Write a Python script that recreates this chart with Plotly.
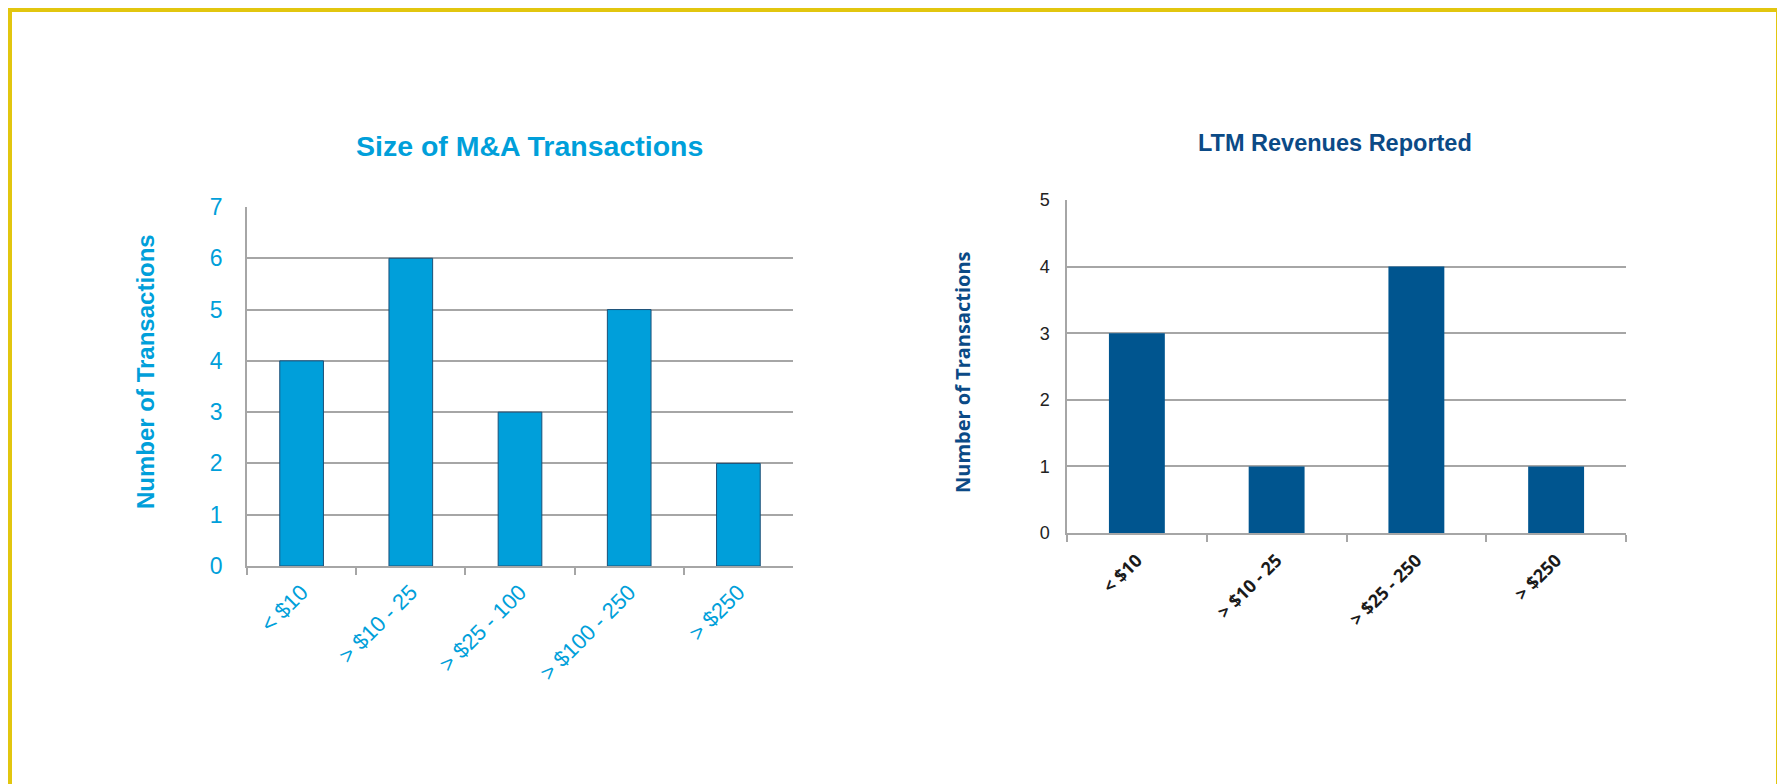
import plotly.graph_objects as go

# page is offset by the 8px body margin of the browser
OFF = 8
W, H = 1785 - OFF, 784 - OFF

# ---- data ----
left_title = "Size of M&A Transactions"
left_categories = ["< $10", "> $10 - 25", "> $25 - 100", "> $100 - 250", "> $250"]
left_values = [4, 6, 3, 5, 2]

right_title = "LTM Revenues Reported"
right_categories = ["< $10", "> $10 - 25", "> $25 - 250", "> $250"]
right_values = [3, 1, 4, 1]

y_title = "Number of Transactions"

# ---- styling ----
LBLUE = "#009fda"
NAVY = "#00558f"
NAVY_TXT = "#0b4a86"
GRID = "#a6a6a6"


def px_x(x):
    return (x - OFF) / W


def px_y(y):
    return 1 - (y - OFF) / H


fig = go.Figure()

fig.add_trace(go.Bar(
    x=left_categories, y=left_values, xaxis="x", yaxis="y",
    marker=dict(color=LBLUE, line=dict(color="#1c4f77", width=1)),
    width=0.4, showlegend=False,
))
fig.add_trace(go.Bar(
    x=right_categories, y=right_values, xaxis="x2", yaxis="y2",
    marker=dict(color=NAVY, line=dict(color=NAVY, width=0)),
    width=0.4, showlegend=False,
))

fig.update_layout(
    width=W, height=H,
    margin=dict(l=0, r=0, t=0, b=0, autoexpand=False),
    paper_bgcolor="#dfe3e6",
    plot_bgcolor="rgba(0,0,0,0)",
    xaxis=dict(
        domain=[px_x(247), px_x(793)], anchor="y",
        type="category", tickson="boundaries",
        ticks="outside", ticklen=7, tickcolor=GRID, tickwidth=1.5,
        showline=True, linecolor=GRID, linewidth=1.5,
        showgrid=False, tickangle=-45, ticklabelstandoff=3,
        tickfont=dict(family="Liberation Sans, Arial", size=22, color=LBLUE),
        fixedrange=True,
    ),
    yaxis=dict(
        domain=[px_y(566), px_y(207)], anchor="x",
        range=[0, 7], dtick=1,
        showline=True, linecolor=GRID, linewidth=1.5,
        showgrid=True, gridcolor=GRID, gridwidth=1.5,
        ticks="", ticklabelstandoff=18,
        tickfont=dict(family="Liberation Sans, Arial", size=23, color=LBLUE),
        zeroline=False,
    ),
    xaxis2=dict(
        domain=[px_x(1067), px_x(1626)], anchor="y2",
        type="category", tickson="boundaries",
        ticks="outside", ticklen=7, tickcolor=GRID, tickwidth=1.5,
        showline=True, linecolor=GRID, linewidth=1.5,
        showgrid=False, tickangle=-45, ticklabelstandoff=8,
        tickfont=dict(family="Open Sans, Lato", size=18, color="#1a1a1a", weight="bold"),
    ),
    yaxis2=dict(
        domain=[px_y(533), px_y(200)], anchor="x2",
        range=[0, 5], dtick=1,
        showline=True, linecolor=GRID, linewidth=1.5,
        showgrid=True, gridcolor=GRID, gridwidth=1.5,
        ticks="", ticklabelstandoff=12,
        tickfont=dict(family="Liberation Sans, Arial", size=18, color="#222222"),
        zeroline=False,
    ),
    shapes=[
        dict(type="rect", xref="paper", yref="paper", layer="below",
             x0=px_x(10), x1=px_x(1778), y0=px_y(820), y1=px_y(10),
             fillcolor="white", line=dict(color="#e2c60f", width=4)),
    ],
    annotations=[
        dict(text=left_title, xref="paper", yref="paper", x=px_x(529), y=px_y(146),
             showarrow=False, xanchor="center", yanchor="middle",
             font=dict(family="Liberation Sans, Arial", size=28.5, color=LBLUE, weight="bold")),
        dict(text=right_title, xref="paper", yref="paper", x=px_x(1335), y=px_y(143),
             showarrow=False, xanchor="center", yanchor="middle",
             font=dict(family="Liberation Sans, Arial", size=23.5, color=NAVY_TXT, weight="bold")),
        dict(text=y_title, xref="paper", yref="paper", x=px_x(145), y=px_y(372),
             showarrow=False, xanchor="center", yanchor="middle", textangle=-90,
             font=dict(family="Liberation Sans, Arial", size=24, color=LBLUE, weight="bold")),
        dict(text=y_title, xref="paper", yref="paper", x=px_x(962), y=px_y(372),
             showarrow=False, xanchor="center", yanchor="middle", textangle=-90,
             font=dict(family="Open Sans, Lato", size=20, color=NAVY_TXT, weight="bold")),
    ],
)

fig.write_html("out.html")
